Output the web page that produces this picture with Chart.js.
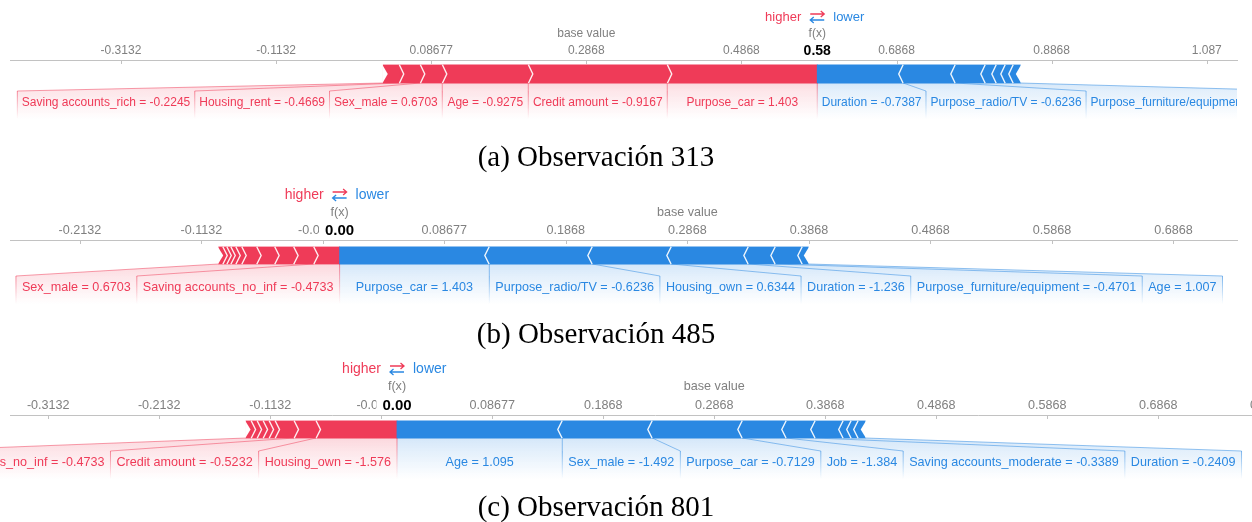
<!DOCTYPE html>
<html lang="es">
<head>
<meta charset="utf-8">
<title>Observaciones 313, 485 y 801</title>
<script src="https://cdn.jsdelivr.net/npm/chart.js@4.4.1/dist/chart.umd.min.js"></script>
<style>
  html, body { margin: 0; padding: 0; background: #fff; width: 1252px; height: 522px; overflow: hidden; }
  canvas { position: absolute; left: 0; display: block; }
</style>
</head>
<body>
<canvas id="obs313" width="1252" height="175" style="top:0px"></canvas>
<canvas id="obs485" width="1252" height="175" style="top:175px"></canvas>
<canvas id="obs801" width="1320" height="172" style="top:350px"></canvas>
<script>
// Shared base value of the model output
const BASE_VALUE = 0.28677;

// ---- Observación 313 ----
const ticks313 = [-0.31323, -0.11323, 0.08677, 0.28677, 0.48677, 0.68677, 0.88677, 1.08677];
const range313 = [-0.4563, 1.1258];
// features pushing the output higher, listed from f(x) outwards
const posNames313 = ['Purpose_car', 'Credit amount', 'Age', 'Sex_male', 'Housing_rent', 'Saving accounts_rich'];
const posValues313 = ['1.403', '-0.9167', '-0.9275', '0.6703', '-0.4669', '-0.2245'];
const posEffects313 = [0.1934, 0.1792, 0.1109, 0.0284, 0.0271, 0.0206];
// features pushing the output lower, listed from f(x) outwards
const negNames313 = ['Duration', 'Purpose_radio/TV', 'Purpose_furniture/equipment', '', '', '', ''];
const negValues313 = ['-0.7387', '-0.6236', '-0.4701', '', '', '', ''];
const negEffects313 = [-0.1109, -0.0671, -0.0387, -0.0142, -0.0116, -0.0103, -0.0090];

// ---- Observación 485 ----
const ticks485 = [-0.21323, -0.11323, -0.01323, 0.08677, 0.18677, 0.28677, 0.38677, 0.48677, 0.58677, 0.68677];
const range485 = [-0.2707, 0.7391];
const posNames485 = ['Saving accounts_no_inf', 'Sex_male', '', '', '', '', '', '', '', ''];
const posValues485 = ['-0.4733', '0.6703', '', '', '', '', '', '', '', ''];
const posEffects485 = [0.0214, 0.0165, 0.0156, 0.0148, 0.0123, 0.0049, 0.0041, 0.0033, 0.0033, 0.0033];
const negNames485 = ['Purpose_car', 'Purpose_radio/TV', 'Housing_own', 'Duration', 'Purpose_furniture/equipment', 'Age', ''];
const negValues485 = ['1.403', '-0.6236', '0.6344', '-1.236', '-0.4701', '1.007', ''];
const negEffects485 = [-0.1232, -0.0848, -0.0650, -0.0634, -0.0222, -0.0222, -0.0049];

// ---- Observación 801 ----
const ticks801 = [-0.31323, -0.21323, -0.11323, -0.01323, 0.08677, 0.18677, 0.28677, 0.38677, 0.48677, 0.58677, 0.68677, 0.78677];
const range801 = [-0.3477, 0.8145];
const posNames801 = ['Housing_own', 'Credit amount', 'Saving accounts_no_inf', '', '', '', '', ''];
const posValues801 = ['-1.576', '-0.5232', '-0.4733', '', '', '', '', ''];
const posEffects801 = [0.0730, 0.0198, 0.0171, 0.0054, 0.0054, 0.0054, 0.0054, 0.0045];
const negNames801 = ['Age', 'Sex_male', 'Purpose_car', 'Job', 'Saving accounts_moderate', 'Duration', '', '', ''];
const negValues801 = ['1.095', '-1.492', '-0.7129', '-1.384', '-0.3389', '-0.2409', '', '', ''];
const negEffects801 = [-0.1489, -0.0811, -0.0811, -0.0396, -0.0261, -0.0252, -0.0072, -0.0063, -0.0063];

// ---- styling ----
const RED_RGB = [239, 59, 88];
const BLUE_RGB = [42, 136, 226];
const rgba = (c, a) => `rgba(${c[0]},${c[1]},${c[2]},${a})`;
const RED = rgba(RED_RGB, 1);
const BLUE = rgba(BLUE_RGB, 1);
const SANS = "'Liberation Sans', Arial, Helvetica, sans-serif";
const SERIF = "'Liberation Serif', 'Times New Roman', Times, serif";
const GREY = '#808080';
const AXIS_GREY = '#c2c2c2';
const TICK_PAD = 2;
const TIP = 4.5;                          // chevron depth

Chart.defaults.font.family = SANS;

const sum = a => a.reduce((s, v) => s + v, 0);

// Lay the contributions out end to end starting at f(x)
function buildSegments(fx, effects, names, values) {
  const segs = [];
  let cur = fx;
  effects.forEach((e, i) => {
    const pos = e > 0;
    const lo = pos ? cur - e : cur;
    const hi = pos ? cur : cur - e;
    segs.push({ lo, hi, pos, label: names[i] ? `${names[i]} = ${values[i]}` : '' });
    cur = pos ? lo : hi;
  });
  return segs;
}

function forcePlugin(P) {
  const G = P.geo;
  return {
    id: 'forcePlot',
    afterDatasetsDraw(chart) {
      const ctx = chart.ctx, xs = chart.scales.x, area = chart.chartArea;
      const px = v => xs.getPixelForValue(v);
      const el = chart.getDatasetMeta(0).data[0];
      const top = el.y - el.height / 2, bot = el.y + el.height / 2, mid = el.y;
      const fxPx = px(P.fx);
      ctx.save();

      // chevrons between blocks and notches at the outer ends
      [P.pos, P.neg].forEach(side => {
        side.forEach((s, i) => {
          const dir = s.pos ? 1 : -1;
          if (i > 0) {
            const x = px(s.pos ? s.hi : s.lo);
            ctx.beginPath();
            ctx.moveTo(x, top - 0.5);
            ctx.lineTo(x + dir * TIP, mid);
            ctx.lineTo(x, bot + 0.5);
            ctx.strokeStyle = 'rgba(255,255,255,0.92)';
            ctx.lineWidth = 1.4;
            ctx.stroke();
          }
          if (i === side.length - 1) {
            const x = px(s.pos ? s.lo : s.hi);
            ctx.beginPath();
            ctx.moveTo(x - dir * 1, top - 0.5);
            ctx.lineTo(x + dir * TIP, mid);
            ctx.lineTo(x - dir * 1, bot + 0.5);
            ctx.closePath();
            ctx.fillStyle = '#fff';
            ctx.fill();
          }
        });
      });

      // feature labels underneath the bar
      ctx.beginPath();
      ctx.rect(0, 0, area.right, chart.height);
      ctx.clip();
      ctx.font = `${G.fs}px ${SANS}`;
      const pad = G.labelPad;
      const labelY = G.labelY;
      const labelTop = labelY - 12;
      const labelBot = labelY + 16;

      [P.pos, P.neg].forEach(side => {
        if (!side.length) return;
        const isPos = side[0].pos;
        const col = isPos ? RED_RGB : BLUE_RGB;
        const barEnd = px(isPos ? side[side.length - 1].lo : side[side.length - 1].hi);
        const labeled = side.filter(s => s.label);
        let inner = fxPx;
        const items = labeled.map((s, k) => {
          const w = ctx.measureText(s.label).width;
          const a = px(s.lo), b = px(s.hi);
          let cx = (a + b) / 2, outer;
          if (isPos) {
            cx = Math.min(cx, inner - pad - w / 2);
            outer = Math.min(a, cx - w / 2 - pad);
          } else {
            cx = Math.max(cx, inner + pad + w / 2);
            outer = Math.max(b, cx + w / 2 + pad);
          }
          const segInner = isPos ? b : a;
          const segOuter = k === labeled.length - 1 ? barEnd : (isPos ? a : b);
          const it = { s, w, cx, boxInner: inner, boxOuter: outer, segInner, segOuter };
          inner = outer;
          return it;
        });

        // shaded backings linking blocks to their labels
        items.forEach(it => {
          const g = ctx.createLinearGradient(0, bot, 0, labelBot);
          g.addColorStop(0, rgba(col, 0.2));
          g.addColorStop((labelTop - bot) / (labelBot - bot), rgba(col, 0.13));
          g.addColorStop(1, rgba(col, 0));
          ctx.beginPath();
          ctx.moveTo(it.segOuter, bot);
          ctx.lineTo(it.segInner, bot);
          ctx.lineTo(it.boxInner, labelTop);
          ctx.lineTo(it.boxInner, labelBot);
          ctx.lineTo(it.boxOuter, labelBot);
          ctx.lineTo(it.boxOuter, labelTop);
          ctx.closePath();
          ctx.fillStyle = g;
          ctx.fill();
        });

        // links and dividers
        items.forEach(it => {
          ctx.beginPath();
          ctx.moveTo(it.segOuter, bot);
          ctx.lineTo(it.boxOuter, labelTop);
          ctx.strokeStyle = rgba(col, 0.5);
          ctx.lineWidth = 1;
          ctx.stroke();
          const g = ctx.createLinearGradient(0, labelTop, 0, labelBot);
          g.addColorStop(0, rgba(col, 0.6));
          g.addColorStop(1, rgba(col, 0));
          ctx.beginPath();
          ctx.moveTo(it.boxOuter, labelTop);
          ctx.lineTo(it.boxOuter, labelBot);
          ctx.strokeStyle = g;
          ctx.stroke();
        });

        // label text
        ctx.fillStyle = rgba(col, 1);
        ctx.textAlign = 'center';
        ctx.textBaseline = 'middle';
        items.forEach(it => ctx.fillText(it.s.label, it.cx, labelY));
      });

      // divider at f(x)
      const g = ctx.createLinearGradient(0, bot, 0, labelBot);
      g.addColorStop(0, rgba(RED_RGB, 0.6));
      g.addColorStop(1, rgba(RED_RGB, 0));
      ctx.beginPath();
      ctx.moveTo(fxPx, bot);
      ctx.lineTo(fxPx, labelBot);
      ctx.strokeStyle = g;
      ctx.lineWidth = 1;
      ctx.stroke();
      ctx.restore();
    },

    afterDraw(chart) {
      const ctx = chart.ctx, xs = chart.scales.x;
      const px = v => xs.getPixelForValue(v);
      const axisY = xs.bottom;
      const tickY = axisY - TICK_PAD - 0.6 * G.fs;
      const fxPx = px(P.fx);
      ctx.save();

      // tick marks hanging below the axis line
      ctx.strokeStyle = AXIS_GREY;
      ctx.lineWidth = 1;
      xs.ticks.forEach(t => {
        const x = Math.round(px(t.value)) + 0.5;
        ctx.beginPath();
        ctx.moveTo(x, axisY);
        ctx.lineTo(x, axisY + 4);
        ctx.stroke();
      });

      // f(x) value, masking the tick label beneath it
      ctx.font = `bold ${G.fxFs}px ${SANS}`;
      const fxText = P.fx.toFixed(2);
      const w = ctx.measureText(fxText).width;
      ctx.fillStyle = '#fff';
      ctx.fillRect(fxPx - w / 2 - 6, tickY - 9, w + 12, 17);
      ctx.fillStyle = '#000';
      ctx.textAlign = 'center';
      ctx.textBaseline = 'middle';
      ctx.fillText(fxText, fxPx, tickY + 0.5);

      // titles above the axis
      ctx.font = `${G.fs}px ${SANS}`;
      ctx.fillStyle = GREY;
      ctx.fillText('f(x)', fxPx, G.titleY);
      ctx.fillText('base value', px(BASE_VALUE), G.titleY);

      // higher ⇄ lower
      const hy = G.higherY;
      ctx.font = `${G.hlFs}px ${SANS}`;
      ctx.textAlign = 'right';
      ctx.fillStyle = RED;
      ctx.fillText('higher', fxPx - 16, hy);
      ctx.textAlign = 'left';
      ctx.fillStyle = BLUE;
      ctx.fillText('lower', fxPx + 16, hy);
      ctx.lineWidth = 1.3;
      ctx.strokeStyle = RED;
      ctx.beginPath();
      ctx.moveTo(fxPx - 7, hy - 3); ctx.lineTo(fxPx + 7, hy - 3);
      ctx.moveTo(fxPx + 3.5, hy - 6); ctx.lineTo(fxPx + 7, hy - 3); ctx.lineTo(fxPx + 3.5, hy);
      ctx.stroke();
      ctx.strokeStyle = BLUE;
      ctx.beginPath();
      ctx.moveTo(fxPx + 7, hy + 3); ctx.lineTo(fxPx - 7, hy + 3);
      ctx.moveTo(fxPx - 3.5, hy); ctx.lineTo(fxPx - 7, hy + 3); ctx.lineTo(fxPx - 3.5, hy + 6);
      ctx.stroke();

      // caption
      ctx.font = `29px ${SERIF}`;
      ctx.fillStyle = '#000';
      ctx.textAlign = 'center';
      ctx.fillText(P.caption, 596, G.captionY);
      ctx.restore();
    }
  };
}

function makeForceChart(id, caption, ticks, range, posN, posV, posE, negN, negV, negE, geo) {
  const canvas = document.getElementById(id);
  const fx = BASE_VALUE + sum(posE) + sum(negE);
  const pos = buildSegments(fx, posE, posN, posV);
  const neg = buildSegments(fx, negE, negN, negV);
  const segs = pos.concat(neg);
  const chartBottom = geo.axisY + 2 * geo.gap + geo.barH;
  const axisBand = 1.2 * geo.fs + 2 * TICK_PAD;   // room Chart.js keeps for the tick row
  return new Chart(canvas, {
    type: 'bar',
    data: {
      labels: ['f(x)'],
      datasets: [{
        data: segs.map(s => ({ x: [s.lo, s.hi], y: 'f(x)' })),
        backgroundColor: segs.map(s => (s.pos ? RED : BLUE)),
        borderWidth: 0,
        barThickness: geo.barH,
        inflateAmount: 0.4
      }]
    },
    options: {
      indexAxis: 'y',
      responsive: false,
      animation: false,
      events: [],
      layout: {
        padding: {
          top: geo.axisY - axisBand,
          bottom: canvas.height - chartBottom,
          left: 10,
          right: canvas.width - geo.right
        }
      },
      plugins: { legend: { display: false }, tooltip: { enabled: false } },
      scales: {
        x: {
          type: 'linear',
          position: 'top',
          min: range[0],
          max: range[1],
          grid: { display: false, drawTicks: false },
          border: { display: true, color: AXIS_GREY, width: 1 },
          afterBuildTicks: sc => { sc.ticks = ticks.map(v => ({ value: v })); },
          ticks: {
            autoSkip: false,
            maxRotation: 0,
            padding: TICK_PAD,
            color: GREY,
            font: { size: geo.fs },
            callback: v => Number(v).toPrecision(4)
          }
        },
        y: { type: 'category', display: false, offset: true }
      }
    },
    plugins: [forcePlugin({ fx, pos, neg, geo, caption })]
  });
}

makeForceChart('obs313', '(a) Observación 313', ticks313, range313,
  posNames313, posValues313, posEffects313, negNames313, negValues313, negEffects313,
  { axisY: 60, gap: 5, barH: 18, labelY: 103, higherY: 17, titleY: 34, captionY: 158, right: 1237,
    fs: 12, fxFs: 14, hlFs: 13, labelPad: 4.5 });

makeForceChart('obs485', '(b) Observación 485', ticks485, range485,
  posNames485, posValues485, posEffects485, negNames485, negValues485, negEffects485,
  { axisY: 65, gap: 7, barH: 17, labelY: 113, higherY: 20, titleY: 38, captionY: 160, right: 1237,
    fs: 12.6, fxFs: 15, hlFs: 14, labelPad: 6 });

makeForceChart('obs801', '(c) Observación 801', ticks801, range801,
  posNames801, posValues801, posEffects801, negNames801, negValues801, negEffects801,
  { axisY: 65, gap: 6, barH: 17, labelY: 113, higherY: 19, titleY: 37, captionY: 158, right: 1300,
    fs: 12.6, fxFs: 15, hlFs: 14, labelPad: 6 });
</script>
</body>
</html>
